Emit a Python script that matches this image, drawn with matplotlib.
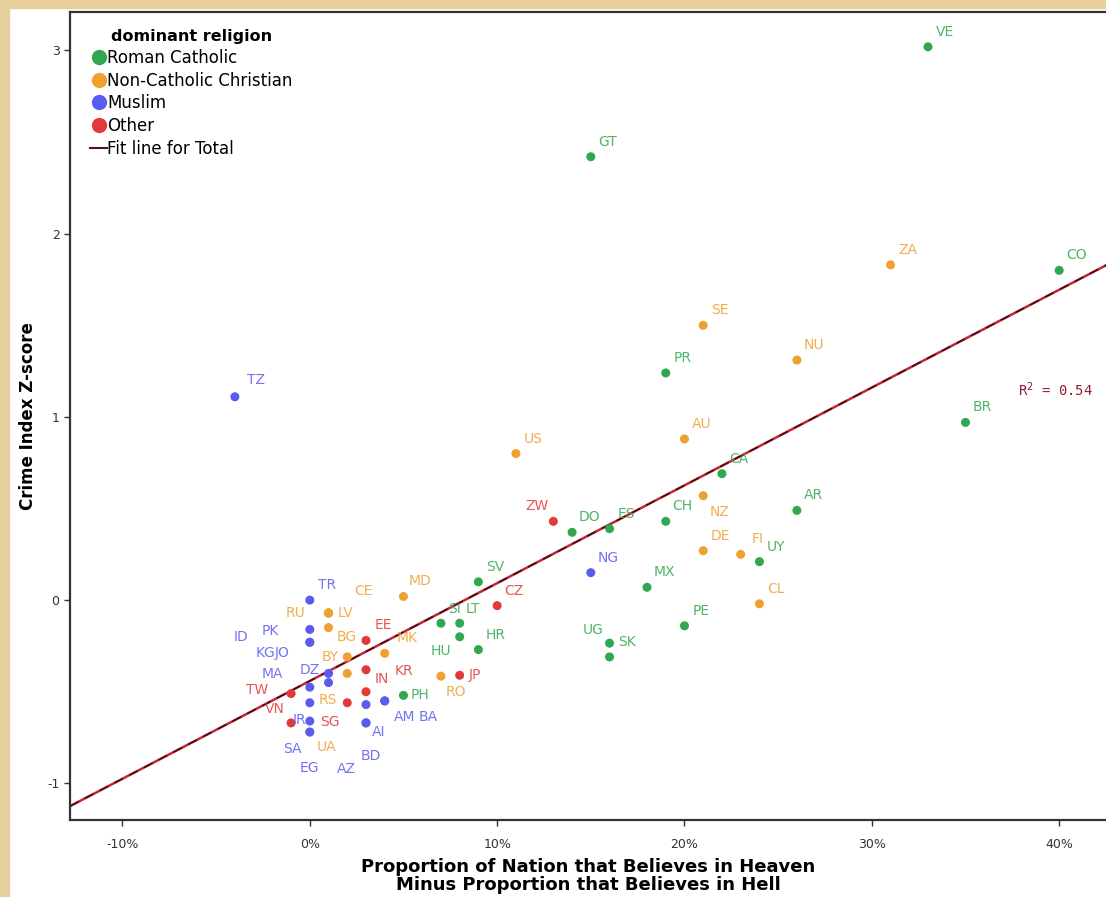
import numpy as np
import matplotlib
matplotlib.use("Agg")
import matplotlib.pyplot as plt
from matplotlib.lines import Line2D
from matplotlib.patches import Rectangle

plt.rcParams['axes.unicode_minus'] = False

# x = heaven minus hell (%), y = crime index z-score
rc_codes = ['VE', 'GT', 'CO', 'PR', 'BR', 'CA', 'AR', 'CH', 'DO', 'ES', 'UY', 'MX',
            'SV', 'PE', 'UG', 'SK', 'SI', 'LT', 'HU', 'HR', 'PH']
rc_x = [33, 15, 40, 19, 35, 22, 26, 19, 14, 16, 24, 18, 9, 20, 16, 16, 7, 8, 8, 9, 5]
rc_y = [3.02, 2.42, 1.80, 1.24, 0.97, 0.69, 0.49, 0.43, 0.37, 0.39, 0.21, 0.07,
        0.10, -0.14, -0.235, -0.31, -0.126, -0.126, -0.20, -0.27, -0.52]

nc_codes = ['ZA', 'SE', 'NU', 'AU', 'US', 'NZ', 'DE', 'FI', 'CL', 'MD', 'CE', 'RU',
            'LV', 'BG', 'BY', 'MK', 'RS', 'RO', 'UA']
nc_x = [31, 21, 26, 20, 11, 21, 21, 23, 24, 5, 1, 1, 1, 1, 2, 4, 2, 7, 0]
nc_y = [1.83, 1.50, 1.31, 0.88, 0.80, 0.57, 0.27, 0.25, -0.02, 0.02, -0.07, -0.07,
        -0.07, -0.15, -0.31, -0.29, -0.40, -0.415, -0.72]

mu_codes = ['TZ', 'NG', 'TR', 'PK', 'ID', 'KG', 'JO', 'DZ', 'MA', 'IR', 'SA', 'EG',
            'AI', 'AZ', 'BD', 'AM', 'BA']
mu_x = [-4, 15, 0, 0, 0, 0, 1, 1, 0, 0, 0, 0, 3, 3, 3, 4, 4]
mu_y = [1.11, 0.15, 0.0, -0.16, -0.23, -0.23, -0.40, -0.45, -0.475, -0.56, -0.66,
        -0.72, -0.57, -0.67, -0.67, -0.55, -0.55]

ot_codes = ['ZW', 'CZ', 'EE', 'KR', 'IN', 'JP', 'TW', 'VN', 'SG']
ot_x = [13, 10, 3, 3, 3, 8, -1, -1, 2]
ot_y = [0.43, -0.03, -0.22, -0.38, -0.50, -0.41, -0.51, -0.67, -0.56]

r_squared = 0.54

# label offsets in pixels (dx, dy), default up-right
label_offsets = {
    'UG': (-16, 13), 'HU': (-19, -14), 'PH': (17, 0), 'NZ': (16, -16),
    'CE': (35, 22), 'RU': (-33, 0), 'LV': (17, 0), 'BG': (18, -9), 'BY': (-17, 0),
    'MK': (22, 15), 'RS': (-19, -27), 'RO': (15, -16), 'UA': (17, -15),
    'ZW': (-16, 15), 'KR': (38, -1), 'IN': (16, 13), 'JP': (15, 0), 'TW': (-34, 4),
    'VN': (-16, 14), 'SG': (-17, -19), 'TZ': (21, 17), 'PK': (-39, -2),
    'ID': (-69, 5), 'KG': (-44, -11), 'JO': (-46, 20), 'MA': (-37, 13),
    'DZ': (-19, 13), 'IR': (-10, -17), 'SA': (-17, -28), 'EG': (0, -36),
    'AI': (13, -27), 'AZ': (-20, -46), 'BD': (5, -33), 'AM': (20, -16),
    'BA': (43, -16), 'SI': (14, 14), 'LT': (13, 14),
}

groups = [
    ('Roman Catholic', '#2fa84f', rc_codes, rc_x, rc_y),
    ('Non-Catholic Christian', '#eea030', nc_codes, nc_x, nc_y),
    ('Muslim', '#5b5bf0', mu_codes, mu_x, mu_y),
    ('Other', '#e03a3a', ot_codes, ot_x, ot_y),
]

fig = plt.figure(figsize=(11.06, 8.97), dpi=100, facecolor='white')
# parchment strips along left and top edges
fig.patches.append(Rectangle((0, 0), 9 / 1106, 1, transform=fig.transFigure,
                             color='#e6cf9c', zorder=0))
fig.patches.append(Rectangle((0, 1 - 8 / 897), 1, 8 / 897, transform=fig.transFigure,
                             color='#e6cf9c', zorder=0))

ax = fig.add_axes([70 / 1106, 77 / 897, 1 - 70 / 1106, 808 / 897])
ax.set_xlim(-12.8, 42.5)
ax.set_ylim(-1.2, 3.21)

handles = []
for name, col, codes, xs, ys in groups:
    ax.scatter(xs, ys, s=42, color=col, edgecolors='none', zorder=3)
    for c, x, y in zip(codes, xs, ys):
        dx, dy = label_offsets.get(c, (17, 15))
        ax.annotate(c, (x, y), xytext=(dx, dy), textcoords='offset pixels',
                    ha='center', va='center', fontsize=10, color=col, alpha=0.85,
                    zorder=4)
    handles.append(Line2D([], [], marker='o', linestyle='none', markersize=11,
                          markerfacecolor=col, markeredgecolor='none', label=name))

# fit line for all countries
all_x = np.array(rc_x + nc_x + mu_x + ot_x, dtype=float)
all_y = np.array(rc_y + nc_y + mu_y + ot_y, dtype=float)
slope, intercept = np.polyfit(all_x, all_y, 1)
fx = np.array(ax.get_xlim())
ax.plot(fx, slope * fx + intercept, color='#c0283a', lw=1.8, zorder=2)
ax.plot(fx, slope * fx + intercept, color='#3a0a0a', lw=1.0, dashes=(7, 5), zorder=2)
handles.append(Line2D([], [], color='#5a1020', lw=1.5, label='Fit line for Total'))

ax.text(37.8, 1.15, 'R$^2$ = %.2f' % r_squared, color='#8a2030', fontsize=10,
        ha='left', va='center', family='DejaVu Sans Mono')

leg = ax.legend(handles=handles, title='dominant religion', loc='upper left',
                bbox_to_anchor=(82 / 1106, 1 - 21 / 897), bbox_transform=fig.transFigure,
                frameon=False, fontsize=12, title_fontsize=11.5, borderpad=0,
                labelspacing=0.28, handletextpad=0.0, handlelength=1.0)
leg.get_title().set_fontweight('bold')

ax.set_xticks([-10, 0, 10, 20, 30, 40])
ax.set_xticklabels(['-10%', '0%', '10%', '20%', '30%', '40%'])
ax.set_yticks([-1, 0, 1, 2, 3])
ax.tick_params(labelsize=9, colors='#333333', length=4, width=1)
ax.tick_params(axis='x', pad=9)
for s in ['left', 'top', 'bottom']:
    ax.spines[s].set_linewidth(1.6)
    ax.spines[s].set_color('#333333')
ax.spines['right'].set_visible(False)

ax.set_xlabel('Proportion of Nation that Believes in Heaven\nMinus Proportion that Believes in Hell',
              fontsize=13, fontweight='bold', labelpad=5, linespacing=1.0)
ax.set_ylabel('Crime Index Z-score', fontsize=12, fontweight='bold', labelpad=7)

fig.savefig('out.png', dpi=100, facecolor='white')
